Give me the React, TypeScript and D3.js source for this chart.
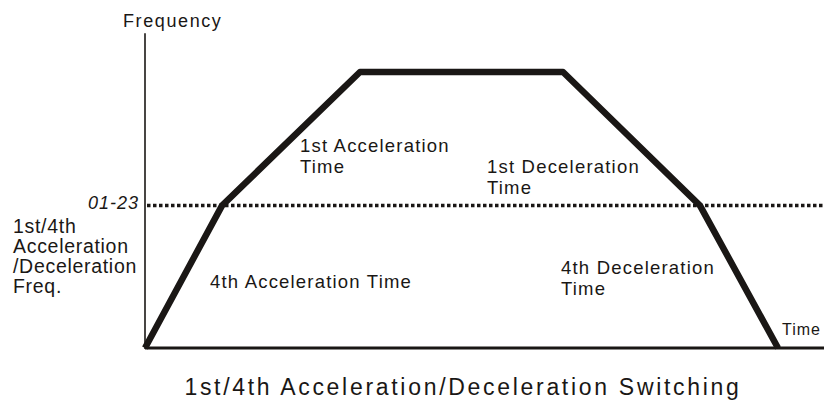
import React, { useRef, useEffect } from 'react';
import * as d3 from 'd3';

// profile points (time units, frequency %)
const times = [0, 77, 215, 418, 555, 633];
const freqs = [0, 51.6, 100, 100, 51.6, 0];
const switchFreq = 51.6;
const switchLabel = '01-23';
const yLabelLines = ['1st/4th', 'Acceleration', '/Deceleration', 'Freq.'];
const annotations = [
  { lines: ['1st Acceleration', 'Time'], t: 155, f: 71 },
  { lines: ['1st Deceleration', 'Time'], t: 342, f: 63.4 },
  { lines: ['4th Acceleration Time'], t: 65, f: 21.7 },
  { lines: ['4th Deceleration', 'Time'], t: 416, f: 26.8 },
];
const title = '1st/4th Acceleration/Deceleration Switching';

const App = () => {
  const ref = useRef<SVGSVGElement>(null);
  useEffect(() => {
    const width = 824;
    const height = 403;
    const svg = d3.select(ref.current).attr('width', width).attr('height', height);
    svg.selectAll('*').remove();

    const x = d3.scaleLinear().domain([0, 679]).range([145, 824]);
    const y = d3.scaleLinear().domain([0, 100]).range([348, 72]);
    const font = 'Liberation Sans, Arial, sans-serif';
    const ink = '#1a1715';

    // axes
    svg.append('line')
      .attr('x1', x(0)).attr('x2', x(0))
      .attr('y1', y(0) + 1).attr('y2', y(114))
      .attr('stroke', ink).attr('stroke-width', 1.6);
    svg.append('line')
      .attr('x1', x(0)).attr('x2', x(679))
      .attr('y1', y(0)).attr('y2', y(0))
      .attr('stroke', ink).attr('stroke-width', 3);

    // switching frequency dotted line
    svg.append('line')
      .attr('x1', x(0) + 2).attr('x2', x(679))
      .attr('y1', y(switchFreq)).attr('y2', y(switchFreq))
      .attr('stroke', ink).attr('stroke-width', 3.5)
      .attr('stroke-dasharray', '3.5,2.5');

    // trapezoid profile
    const line = d3.line<number>()
      .x((d, i) => x(times[i]))
      .y((d) => y(d));
    svg.append('path')
      .attr('d', line(freqs))
      .attr('fill', 'none')
      .attr('stroke', ink)
      .attr('stroke-width', 6.5)
      .attr('stroke-linejoin', 'round');

    const txt = svg.append('g').attr('font-family', font).attr('fill', ink);

    txt.append('text').attr('x', 123).attr('y', 27)
      .attr('font-size', 18).attr('letter-spacing', 1.6).text('Frequency');
    txt.append('text').attr('x', 782).attr('y', 335)
      .attr('font-size', 16).attr('letter-spacing', 1).text('Time');
    txt.append('text')
      .attr('x', 139).attr('y', y(switchFreq) + 3)
      .attr('text-anchor', 'end').attr('font-size', 18).attr('font-style', 'italic')
      .attr('letter-spacing', 1)
      .text(switchLabel);

    yLabelLines.forEach((l, i) => {
      txt.append('text').attr('x', 13).attr('y', 233 + i * 20)
        .attr('font-size', 19.5).attr('letter-spacing', 0.7).text(l);
    });

    annotations.forEach((a) => {
      a.lines.forEach((l, i) => {
        txt.append('text')
          .attr('x', x(a.t)).attr('y', y(a.f) + i * 21)
          .attr('font-size', 18.5).attr('letter-spacing', 1.2).text(l);
      });
    });

    txt.append('text')
      .attr('x', 463).attr('y', 395)
      .attr('text-anchor', 'middle').attr('font-size', 23)
      .attr('letter-spacing', 2.7)
      .text(title);
  }, []);

  return <svg ref={ref} style={{ position: 'absolute', left: 0, top: 0 }}></svg>;
};

export default App;
